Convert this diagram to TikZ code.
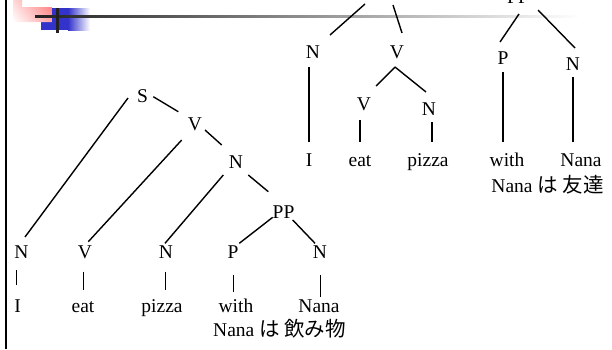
\documentclass[tikz,border=0pt]{standalone}
\usepackage{fontspec}
\setmainfont{Liberation Serif}
\newfontfamily\cjk{Noto Sans CJK JP}
\usetikzlibrary{calc,shadings}
\definecolor{decoblue}{HTML}{3333CC}
\definecolor{decodark}{HTML}{222222}
\newcommand{\jp}[1]{{\cjk\fontsize{20.5}{22}\selectfont #1}}
\begin{document}
\begin{tikzpicture}[x=1pt,y=-1pt,
  lbl/.style={inner sep=0pt, anchor=base, font=\fontsize{19.5}{22}\selectfont},
  edge/.style={line width=1.4pt}]
\useasboundingbox (0,0) rectangle (612,349);
% slide decoration
\fill[decoblue] (41,8) rectangle (68,30);
\shade[left color=decoblue, right color=white] (68,8) rectangle (90,30);
\shade[upper right=red!55, lower right=red!35, upper left=red!15, lower left=white]
  (13,0) -- (22,0) -- (22,7) -- (52,7) -- (52,22) -- (13,22) -- cycle;
\shade[left color=decodark, right color=white] (35,15) rectangle (580,17.3);
\fill[decodark] (56,8) rectangle (59,33);
\fill[black] (4.8,0) rectangle (7,349);
% upper-right tree
\coordinate (ttop) at (386,-15);
\node[lbl] (tN1) at (313,58.5) {N};
\node[lbl] (tV1) at (397,58.5) {V};
\node[lbl] (tV2) at (364,110) {V};
\node[lbl] (tN2) at (429,115) {N};
\node[lbl] (tI) at (309,166) {I};
\node[lbl] (teat) at (360,166) {eat};
\node[lbl] (tpizza) at (428,166) {pizza};
\node[lbl] (tPP) at (518,3) {PP};
\node[lbl] (tP) at (503,64) {P};
\node[lbl] (tN3) at (573,70) {N};
\node[lbl] (twith) at (507,166) {with};
\node[lbl] (tNana) at (581,166) {Nana};
\node[lbl] (tgloss) at (547.5,192) {Nana \jp{は 友達}};
\draw[edge] ($(ttop)+(-21,19)$) -- ($(tN1.base)+(17,-23.5)$);
\draw[edge] ($(ttop)+(7,20)$) -- ($(tV1.base)+(5,-25.5)$);
\draw[edge] ($(tN1.base)+(-4,8.5)$) -- ($(tI.base)+(0,-24)$);
\draw[edge] ($(tV1.base)+(-2,8.5)$) -- ($(tV2.base)+(12,-24)$);
\draw[edge] ($(tV1.base)+(-2,8.5)$) -- ($(tN2.base)+(-3,-23)$);
\draw[edge] ($(tV2.base)+(-4,10)$) -- ($(teat.base)+(0,-24)$);
\draw[edge] ($(tN2.base)+(3,7)$) -- ($(tpizza.base)+(4,-24)$);
\draw[edge] ($(tPP.base)+(1,11)$) -- ($(tP.base)+(-3,-22)$);
\draw[edge] ($(tPP.base)+(20,7)$) -- ($(tN3.base)+(2,-22)$);
\draw[edge] ($(tP.base)+(0,8)$) -- ($(twith.base)+(-4,-24)$);
\draw[edge] ($(tN3.base)+(0,7)$) -- ($(tNana.base)+(-8,-24)$);
% lower-left tree
\node[lbl] (bS) at (142.5,102) {S};
\node[lbl] (bV) at (195,130) {V};
\node[lbl] (bN) at (236,168) {N};
\node[lbl] (bPP) at (283.5,218) {PP};
\node[lbl] (bN1) at (21.5,258) {N};
\node[lbl] (bV1) at (85,258) {V};
\node[lbl] (bN2) at (166,258) {N};
\node[lbl] (bP) at (233,258) {P};
\node[lbl] (bN3) at (320,258) {N};
\node[lbl] (bI) at (17.5,312) {I};
\node[lbl] (beat) at (83,312) {eat};
\node[lbl] (bpizza) at (162,312) {pizza};
\node[lbl] (bwith) at (236,312) {with};
\node[lbl] (bNana) at (319,312) {Nana};
\node[lbl] (bgloss) at (279.5,336) {Nana \jp{は 飲み物}};
\draw[edge] ($(bS.base)+(-14.5,-4)$) -- ($(bN1.base)+(3.5,-21)$);
\draw[edge] ($(bS.base)+(10.8,-5.3)$) -- ($(bV.base)+(-16.7,-18.3)$);
\draw[edge] ($(bV.base)+(-13.3,10)$) -- ($(bV1.base)+(3.3,-16.3)$);
\draw[edge] ($(bV.base)+(10,0)$) -- ($(bN.base)+(-14.3,-23)$);
\draw[edge] ($(bN.base)+(-12.7,7)$) -- ($(bN2.base)+(-1,-14.7)$);
\draw[edge] ($(bN.base)+(12.3,7)$) -- ($(bPP.base)+(-15.2,-26.3)$);
\draw[edge] ($(bPP.base)+(-10.8,-0.7)$) -- ($(bP.base)+(6.3,-14.7)$);
\draw[edge] ($(bPP.base)+(9.2,2)$) -- ($(bN3.base)+(-5,-14.7)$);
\draw[edge] ($(bN1.base)+(-4.8,12)$) -- ($(bI.base)+(-0.8,-27)$);
\draw[edge] ($(bV1.base)+(-1.7,13.7)$) -- ($(beat.base)+(0.3,-22)$);
\draw[edge] ($(bN2.base)+(-0.3,13.7)$) -- ($(bpizza.base)+(3.7,-22)$);
\draw[edge] ($(bP.base)+(0.3,17)$) -- ($(bwith.base)+(-2.7,-20.3)$);
\draw[edge] ($(bN3.base)+(0.7,17)$) -- ($(bNana.base)+(1.7,-15.3)$);
\end{tikzpicture}
\end{document}
